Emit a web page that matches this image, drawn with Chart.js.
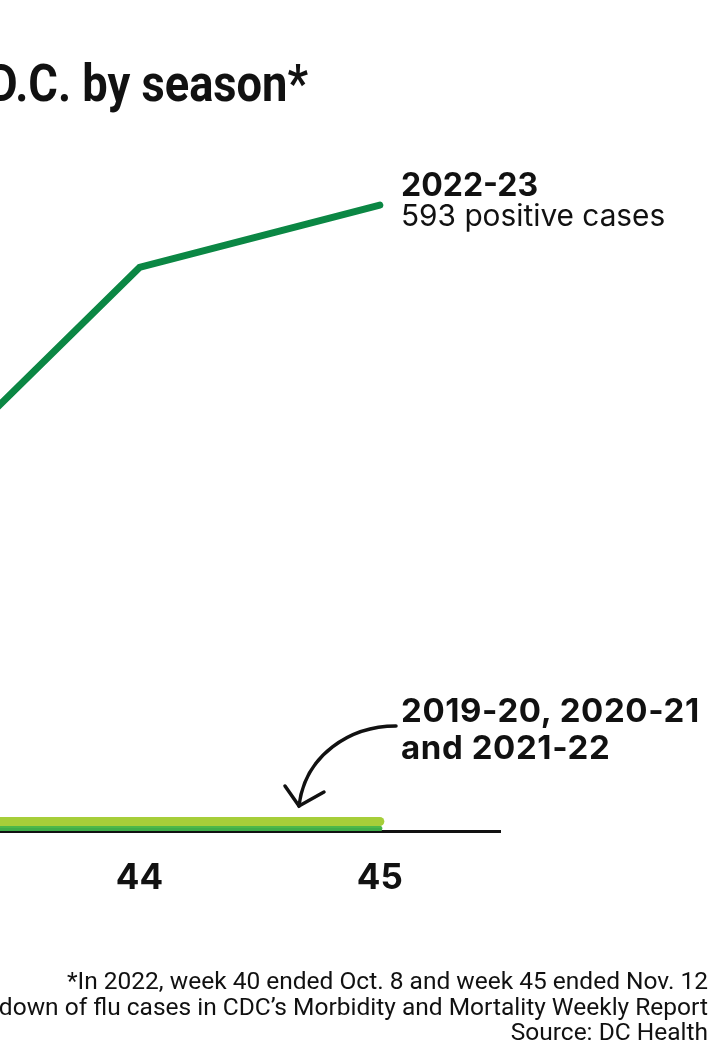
<!DOCTYPE html>
<html><head><meta charset="utf-8">
<script src="https://cdn.jsdelivr.net/npm/chart.js@4"></script>
<style>
html,body{margin:0;padding:0;background:#fff;width:723px;height:1060px;overflow:hidden;position:relative;}
#wrap{position:absolute;left:-150px;top:0;width:873px;height:1060px;}
.t{position:absolute;white-space:nowrap;color:#111;line-height:1;}
#title{right:415px;top:53px;font:bold 52px Roboto, sans-serif;transform:scaleX(0.87);transform-origin:right center;}
.lab{font-family:Inter, sans-serif;left:401px;}
.b{font-weight:bold;font-size:32px;}
.b2{font-weight:bold;font-size:33px;letter-spacing:0.6px;}
.r{font-weight:normal;font-size:29.8px;}
.fn{right:15px;font:24.5px Roboto, sans-serif;text-align:right;}
svg{position:absolute;left:0;top:0;}
</style></head><body>
<div id="wrap"><canvas id="c" width="873" height="1060"></canvas></div>
<div class="t" id="title">Flu cases in D.C. by season*</div>
<div class="t lab b" style="top:169px">2022-23</div>
<div class="t lab r" style="top:201px">593 positive cases</div>
<div class="t lab b2" style="top:694px">2019-20, 2020-21</div>
<div class="t lab b2" style="top:731px">and 2021-22</div>
<svg width="723" height="1060"><path d="M396,726 C350,726 305,755 299,806" fill="none" stroke="#111" stroke-width="3.5" stroke-linecap="round"/><path d="M285,786 L299,806 L324,792" fill="none" stroke="#111" stroke-width="3.5" stroke-linecap="round" stroke-linejoin="miter"/></svg>
<div class="t fn" style="top:966px">*In 2022, week 40 ended Oct. 8 and week 45 ended Nov. 12</div>
<div class="t fn" style="top:992px">Note: Data based on the breakdown of flu cases in CDC’s Morbidity and Mortality Weekly Report</div>
<div class="t fn" style="top:1017px">Source: DC Health</div>
<script>
const weeks = [43, 44, 45];
const s2022_23 = [310, 534, 593];
const s2019_20 = [9, 9, 9];
const s2020_21 = [1, 1, 1];
const s2021_22 = [2.5, 2.5, 2.5];

const pts = arr => weeks.map((w, i) => ({x: w, y: arr[i]}));
const base = {pointRadius: 0, borderCapStyle: 'round', borderJoinStyle: 'round', tension: 0, fill: false};

new Chart(document.getElementById('c'), {
  type: 'line',
  data: {
    datasets: [
      Object.assign({label: '2022-23', data: pts(s2022_23), borderColor: '#0b8744', borderWidth: 7}, base),
      Object.assign({label: '2019-20', data: pts(s2019_20), borderColor: '#a6ce39', borderWidth: 9}, base),
      Object.assign({label: '2020-21', data: pts(s2020_21), borderColor: '#3fae49', borderWidth: 4}, base),
      Object.assign({label: '2021-22', data: pts(s2021_22), borderColor: '#4cb849', borderWidth: 5}, base)
    ]
  },
  options: {
    responsive: false,
    animation: false,
    devicePixelRatio: 1,
    layout: {padding: {left: 40, right: 223, top: 145, bottom: 135}},
    plugins: {legend: {display: false}, tooltip: {enabled: false}},
    scales: {
      x: {
        type: 'linear', min: 43, max: 45.5,
        grid: {display: false, drawTicks: false},
        border: {display: true, color: '#111', width: 3},
        afterBuildTicks: s => { s.ticks = s.ticks.filter(t => Number.isInteger(t.value)); },
        ticks: {color: '#111', padding: 26, autoSkip: false, maxRotation: 0,
          font: {family: 'Inter, sans-serif', size: 35, weight: 'bold'},
          callback: v => String(v)}
      },
      y: {display: false, min: 0, max: 650}
    }
  }
});
</script>
</body></html>
